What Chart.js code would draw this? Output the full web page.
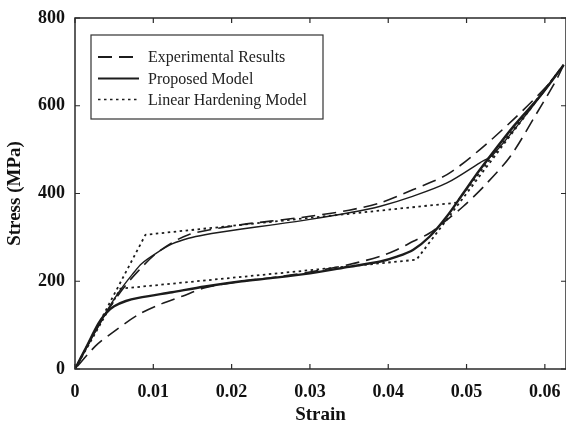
<!DOCTYPE html>
<html>
<head>
<meta charset="utf-8">
<script src="https://cdn.jsdelivr.net/npm/chart.js@4.4.1/dist/chart.umd.min.js"></script>
<style>
    html, body { margin: 0; padding: 0; background: #ffffff; }
    #wrap { width: 566px; height: 425px; }
</style>
</head>
<body>
<div id="wrap"><canvas id="stressChart" width="566" height="425"></canvas></div>
<script>
// ================================================================
//  DATOS (strain, stress en MPa)
// ================================================================
const expLoading = [
    [0, 0], [0.002, 66], [0.004, 128], [0.006, 180], [0.008, 222], [0.0107, 268],
    [0.0145, 306], [0.0213, 329], [0.025, 337], [0.03, 348], [0.035, 362],
    [0.039, 379], [0.0432, 409], [0.0475, 443], [0.0517, 500], [0.056, 569],
    [0.0602, 644], [0.0624, 693]
];
const expUnloading = [
    [0.0624, 693], [0.0615, 660], [0.059, 584], [0.0556, 485], [0.0522, 416],
    [0.0496, 371], [0.0475, 340], [0.0453, 310], [0.0432, 291], [0.0411, 272],
    [0.039, 257], [0.035, 238], [0.03, 221], [0.025, 208], [0.0213, 200],
    [0.0166, 185], [0.0137, 166], [0.0111, 149], [0.0081, 124], [0.0047, 82],
    [0.0026, 52], [0, 0]
];
const propLoading = [
    [0, 0], [0.002, 66], [0.004, 130], [0.0051, 162], [0.0062, 190], [0.0073, 215],
    [0.0085, 240], [0.0103, 263], [0.0124, 285], [0.0145, 298], [0.0166, 306],
    [0.0213, 319], [0.025, 328], [0.03, 341], [0.035, 356], [0.039, 371],
    [0.0432, 394], [0.0475, 424], [0.0517, 470], [0.0534, 489], [0.0581, 591],
    [0.0624, 693]
];
const propUnloading = [
    [0.0624, 693], [0.0594, 622], [0.056, 553], [0.0517, 454], [0.0496, 401],
    [0.0475, 348], [0.0453, 302], [0.0432, 272], [0.0411, 256], [0.039, 245],
    [0.035, 233], [0.03, 218], [0.025, 207], [0.0213, 200], [0.0166, 188],
    [0.0124, 175], [0.0081, 162], [0.0065, 155], [0.005, 143], [0.004, 128],
    [0.003, 104], [0.0015, 52], [0, 0]
];
const linLoading = [[0, 0], [0.009, 306], [0.0487, 379], [0.0624, 693]];
const linUnloading = [[0.0624, 693], [0.0436, 249], [0.0058, 183], [0, 0]];

const xTickVals = [0, 0.01, 0.02, 0.03, 0.04, 0.05, 0.06];
const xTickLabels = ['0', '0.01', '0.02', '0.03', '0.04', '0.05', '0.06'];
const yTickVals = [0, 200, 400, 600, 800];
const yTickLabels = ['0', '200', '400', '600', '800'];

const legendNames = ['Experimental Results', 'Proposed Model', 'Linear Hardening Model'];

// ================================================================
//  ESTILOS
// ================================================================
const ink = '#1c1c1c';
const serif = "'Liberation Serif', 'Times New Roman', serif";
const dashExp = [14, 7];
const dashLin = [2.5, 3.5];

function toPts(arr) {
    return arr.map(p => ({ x: p[0], y: p[1] }));
}

function serie(arr, width, dash, tension) {
    return {
        data: toPts(arr),
        showLine: true,
        borderColor: ink,
        borderWidth: width,
        borderDash: dash,
        pointRadius: 0,
        tension: tension,
        fill: false
    };
}

// Marco con marcas hacia adentro en los cuatro lados + leyenda
const marcoPlugin = {
    id: 'marco',
    afterDatasetsDraw(chart) {
        const { ctx, chartArea: a, scales } = chart;
        ctx.save();
        ctx.strokeStyle = '#2a2a2a';
        ctx.lineWidth = 1.5;
        ctx.setLineDash([]);
        ctx.strokeRect(a.left, a.top, a.right - a.left, a.bottom - a.top);

        const tl = 5;
        ctx.lineWidth = 1.2;
        ctx.beginPath();
        xTickVals.forEach(v => {
            const px = scales.x.getPixelForValue(v);
            ctx.moveTo(px, a.bottom); ctx.lineTo(px, a.bottom - tl);
            ctx.moveTo(px, a.top); ctx.lineTo(px, a.top + tl);
        });
        yTickVals.forEach(v => {
            const py = scales.y.getPixelForValue(v);
            ctx.moveTo(a.left, py); ctx.lineTo(a.left + tl, py);
            ctx.moveTo(a.right, py); ctx.lineTo(a.right - tl, py);
        });
        ctx.stroke();

        // Leyenda
        const box = { x: 91, y: 35, w: 232, h: 84 };
        ctx.fillStyle = '#ffffff';
        ctx.fillRect(box.x, box.y, box.w, box.h);
        ctx.strokeStyle = '#333333';
        ctx.lineWidth = 1.2;
        ctx.strokeRect(box.x, box.y, box.w, box.h);

        const rows = [57, 78.5, 99.5];
        const dashes = [dashExp, [], dashLin];
        const widths = [2, 1.8, 1.6];
        ctx.font = '16px ' + serif;
        ctx.textBaseline = 'middle';
        ctx.textAlign = 'left';
        rows.forEach((ry, i) => {
            ctx.strokeStyle = ink;
            ctx.lineWidth = widths[i];
            ctx.setLineDash(dashes[i]);
            ctx.beginPath();
            ctx.moveTo(98, ry);
            ctx.lineTo(139, ry);
            ctx.stroke();
            ctx.setLineDash([]);
            ctx.fillStyle = '#222222';
            ctx.fillText(legendNames[i], 148, ry + 1);
        });
        ctx.restore();
    }
};

const ctx = document.getElementById('stressChart').getContext('2d');
new Chart(ctx, {
    type: 'scatter',
    data: {
        datasets: [
            serie(expLoading, 1.6, dashExp, 0.3),
            serie(expUnloading, 1.6, dashExp, 0.3),
            serie(propLoading, 1.4, [], 0.3),
            serie(propUnloading, 2.4, [], 0.3),
            serie(linLoading, 1.8, dashLin, 0),
            serie(linUnloading, 1.8, dashLin, 0)
        ]
    },
    options: {
        responsive: false,
        animation: false,
        devicePixelRatio: 1,
        layout: { padding: { top: 18, right: 0, left: 0, bottom: 0 } },
        plugins: {
            legend: { display: false },
            tooltip: { enabled: false }
        },
        scales: {
            x: {
                type: 'linear',
                min: 0,
                max: 0.0627,
                afterBuildTicks: s => { s.ticks = xTickVals.map(v => ({ value: v })); },
                afterFit: s => { s.height = 56; s.paddingLeft = 0; s.paddingRight = 0; },
                grid: { display: false, drawTicks: false },
                border: { display: false },
                ticks: {
                    autoSkip: false,
                    maxRotation: 0,
                    padding: 13,
                    color: '#111111',
                    font: { family: serif, size: 18, weight: 'bold' },
                    callback: v => xTickLabels[xTickVals.indexOf(v)]
                },
                title: {
                    display: true,
                    text: 'Strain',
                    color: '#111111',
                    font: { family: serif, size: 19, weight: 'bold', lineHeight: 1 },
                    padding: { top: 0, bottom: 0 }
                }
            },
            y: {
                type: 'linear',
                min: 0,
                max: 800,
                afterBuildTicks: s => { s.ticks = yTickVals.map(v => ({ value: v })); },
                afterFit: s => { s.width = 75; s.paddingTop = 0; s.paddingBottom = 0; },
                grid: { display: false, drawTicks: false },
                border: { display: false },
                ticks: {
                    autoSkip: false,
                    padding: 10,
                    color: '#111111',
                    font: { family: serif, size: 18, weight: 'bold' },
                    callback: v => yTickLabels[yTickVals.indexOf(v)]
                },
                title: {
                    display: true,
                    text: 'Stress (MPa)',
                    color: '#111111',
                    font: { family: serif, size: 19, weight: 'bold', lineHeight: 1 },
                    padding: { top: 6, bottom: 0 }
                }
            }
        }
    },
    plugins: [marcoPlugin]
});
</script>
</body>
</html>
